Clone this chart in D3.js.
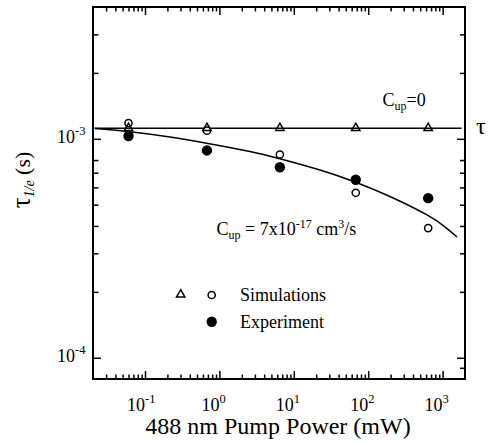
<!DOCTYPE html>
<html><head><meta charset="utf-8">
<script src="https://cdn.jsdelivr.net/npm/d3@7"></script>
<style>
html,body{margin:0;padding:0;background:#fff;}
svg text{font-family:"Liberation Serif","Times New Roman",Times,"DejaVu Serif",serif;}
</style></head><body>
<svg id="chart" width="489" height="445"></svg>
<script>
// Pump power (mW) at which the lifetimes were simulated / measured
const pumpPower = [0.06, 0.68, 6.5, 68, 640];
// Simulated 1/e lifetimes (s) without upconversion (C_up = 0)
const simNoUpconv = [1.12e-3, 1.12e-3, 1.12e-3, 1.12e-3, 1.12e-3];
// Simulated 1/e lifetimes (s) with C_up = 7e-17 cm^3/s
const simUpconv = [1.18e-3, 1.09e-3, 8.48e-4, 5.67e-4, 3.91e-4];
// Measured 1/e lifetimes (s)
const experiment = [1.03e-3, 8.85e-4, 7.42e-4, 6.50e-4, 5.36e-4];

// Model lifetime, C_up = 0 (flat)
const flatPower = [0.021, 1800];
const flatTau = [1.118e-3, 1.118e-3];
// Model lifetime, C_up = 7e-17 cm^3/s
const curvePower = [0.0213, 0.0591, 0.217, 0.703, 2.58, 6.32, 22.5, 66.5, 196, 617, 1077, 1562];
const curveTau = [1.115e-3, 1.080e-3, 1.019e-3, 9.52e-4, 8.75e-4, 8.13e-4, 7.20e-4, 6.35e-4, 5.45e-4, 4.49e-4, 3.96e-4, 3.56e-4];

// Axis ticks
const xMajorTicks = [0.1, 1, 10, 100, 1000];
const xTickExponents = ["-1", "0", "1", "2", "3"];
const yMajorTicks = [1e-4, 1e-3];
const yTickExponents = ["-4", "-3"];
const yMinorLeft = [2e-4, 3e-4, 4e-4, 5e-4, 6e-4, 7e-4, 8e-4, 2e-3, 3e-3];
const yMinorRight = [9e-5, 2e-4, 3e-4, 4e-4, 5e-4, 6e-4, 7e-4, 8e-4, 2e-3, 3e-3];

const FONT = "Liberation Serif, Times New Roman, Times, DejaVu Serif, serif";
const svg = d3.select("#chart").attr("font-family", FONT);
const L = 93, T = 7, R = 465, B = 379;

const x = d3.scaleLog().domain([0.02, 2000]).range([L, R]);
const y = d3.scaleLog().domain([8e-5, 4e-3]).range([B, T]);

// minor x ticks: 2..9 within each decade inside the domain
const xMinorTicks = [];
[0.01, 0.1, 1, 10, 100, 1000].forEach(d => {
  for (let k = 2; k <= 9; k++) {
    const v = d * k;
    if (v > 0.02 * 1.001 && v < 2000 * 0.999) xMinorTicks.push(v);
  }
});

function tickAxis(gen, transform, values, size) {
  const g = svg.append("g").attr("transform", transform)
    .call(gen.tickValues(values).tickSize(size).tickFormat(""));
  g.select(".domain").remove();
  g.selectAll(".tick line").attr("stroke", "#000").attr("stroke-width", 1.5);
  return g;
}

// inward ticks on all four sides
tickAxis(d3.axisBottom(x), `translate(0,${B})`, xMajorTicks, -8);
tickAxis(d3.axisBottom(x), `translate(0,${B})`, xMinorTicks, -4.5);
tickAxis(d3.axisTop(x), `translate(0,${T})`, xMajorTicks, -8);
tickAxis(d3.axisTop(x), `translate(0,${T})`, xMinorTicks, -4.5);
tickAxis(d3.axisLeft(y), `translate(${L},0)`, yMajorTicks, -8);
tickAxis(d3.axisLeft(y), `translate(${L},0)`, yMinorLeft, -5.5);
tickAxis(d3.axisRight(y), `translate(${R},0)`, yMajorTicks, -8);
tickAxis(d3.axisRight(y), `translate(${R},0)`, yMinorRight, -5);

// frame
svg.append("rect").attr("x", L).attr("y", T).attr("width", R - L).attr("height", B - T)
  .attr("fill", "none").attr("stroke", "#000").attr("stroke-width", 2);

// power-of-ten labels: "10" ends at the tick, exponent follows as superscript
const labels = svg.append("g").attr("fill", "#000").attr("font-family", FONT);
function powerLabel(px, py, exp) {
  const t = labels.append("text").attr("x", px - 18).attr("y", py).attr("font-size", 18);
  t.append("tspan").text("10");
  t.append("tspan").attr("font-size", 12.5).attr("dy", -8).text(exp);
}
xMajorTicks.forEach((v, i) => powerLabel(x(v), B + 31.5, xTickExponents[i]));
yMajorTicks.forEach((v, i) => powerLabel(75, y(v) + 4.5, yTickExponents[i]));

// axis titles
svg.append("text").attr("x", 278).attr("y", 434).attr("text-anchor", "middle")
  .attr("font-family", FONT).attr("font-size", 24).text("488 nm Pump Power (mW)");

const yt = svg.append("text").attr("transform", "translate(30,180) rotate(-90)")
  .attr("font-family", FONT).attr("text-anchor", "middle");
yt.append("tspan").attr("font-size", 27).text("\u03c4");
yt.append("tspan").attr("font-size", 14).attr("font-style", "italic").attr("dy", 4).text("1/e");
yt.append("tspan").attr("font-size", 22).attr("dy", -4).text(" (s)");

svg.append("text").attr("x", 476).attr("y", 134).attr("font-family", FONT)
  .attr("font-size", 24).text("\u03c4");

// curve annotations
const a1 = svg.append("text").attr("x", 382.5).attr("y", 105.5).attr("font-family", FONT).attr("font-size", 18);
a1.append("tspan").text("C");
a1.append("tspan").attr("font-size", 12).attr("dy", 4).text("up");
a1.append("tspan").attr("dy", -4).text("=0");

const a2 = svg.append("text").attr("x", 216.5).attr("y", 235).attr("font-family", FONT).attr("font-size", 18);
a2.append("tspan").text("C");
a2.append("tspan").attr("font-size", 12).attr("dy", 4).text("up");
a2.append("tspan").attr("dy", -4).text(" = 7x10");
a2.append("tspan").attr("font-size", 12).attr("dy", -7).text("-17");
a2.append("tspan").attr("dy", 7).text(" cm");
a2.append("tspan").attr("font-size", 12).attr("dy", -7).text("3");
a2.append("tspan").attr("dy", 7).text("/s");

// model lines
const flatLine = d3.line().x(d => x(d[0])).y(d => y(d[1]));
const curveLine = d3.line().x(d => x(d[0])).y(d => y(d[1])).curve(d3.curveNatural);
svg.append("path").datum(d3.zip(flatPower, flatTau)).attr("d", flatLine)
  .attr("fill", "none").attr("stroke", "#000").attr("stroke-width", 1.5);
svg.append("path").datum(d3.zip(curvePower, curveTau)).attr("d", curveLine)
  .attr("fill", "none").attr("stroke", "#000").attr("stroke-width", 1.5);

// markers
const tri = d3.symbol().type(d3.symbolTriangle).size(30);
function openCircle(g, cx, cy) {
  g.append("circle").attr("cx", cx).attr("cy", cy).attr("r", 3.6)
    .attr("fill", "#fff").attr("stroke", "#000").attr("stroke-width", 1.5);
}
function triangle(g, cx, cy) {
  g.append("path").attr("d", tri).attr("transform", `translate(${cx},${cy})`)
    .attr("fill", "none").attr("stroke", "#000").attr("stroke-width", 1.5);
}
function dot(g, cx, cy) {
  g.append("circle").attr("cx", cx).attr("cy", cy).attr("r", 5.2).attr("fill", "#000");
}
const marks = svg.append("g");
pumpPower.forEach((p, i) => openCircle(marks, x(p), y(simUpconv[i])));
pumpPower.forEach((p, i) => triangle(marks, x(p), y(simNoUpconv[i])));
pumpPower.forEach((p, i) => dot(marks, x(p), y(experiment[i])));

// legend
const lg = svg.append("g").attr("font-family", FONT);
triangle(lg, 180.7, 294.5);
openCircle(lg, 211.7, 295);
dot(lg, 211.7, 321.7);
lg.append("text").attr("x", 240).attr("y", 301).attr("font-size", 18).text("Simulations");
lg.append("text").attr("x", 240).attr("y", 327.5).attr("font-size", 18).text("Experiment");
</script>
</body></html>
